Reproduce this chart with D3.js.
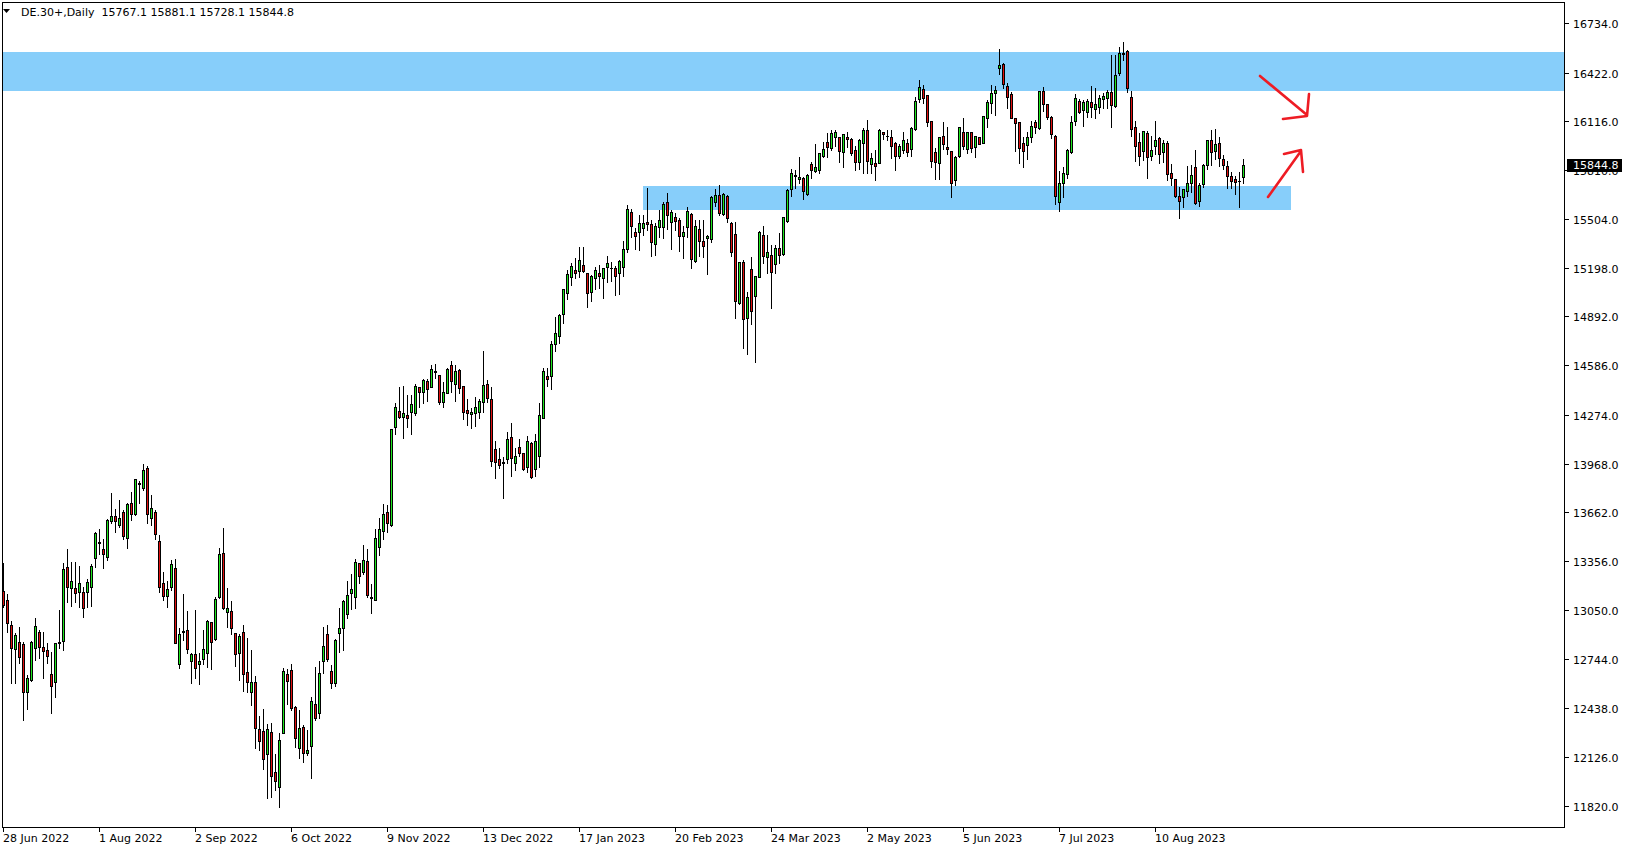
<!DOCTYPE html>
<html><head><meta charset="utf-8">
<script src="https://cdn.jsdelivr.net/npm/d3@7/dist/d3.min.js"></script>
<style>
html,body{margin:0;padding:0;background:#fff;}
svg{display:block;}
text{font-family:"DejaVu Sans",sans-serif;font-size:11px;}
</style></head>
<body>
<svg id="chart" width="1629" height="850"></svg>
<script>
// ---------- DATA ----------
const symbolTitle = "DE.30+,Daily";
const openP = [13169,13113,12956,12803,12847,12835,12537,12611,12810,12910,12816,12797,12646,12600,12841,12858,13318,13190,13190,13165,13161,13165,13196,13374,13470,13433,13385,13609,13640,13583,13667,13504,13719,13650,13843,13813,13939,13625,13663,13483,13217,13140,13196,13311,12709,12920,12924,12732,12774,12709,12740,12778,12972,12865,13129,13405,13039,13043,12903,12782,12909,12658,12537,12600,12301,12290,12144,12282,12031,11941,12276,12648,12673,12439,12181,12317,12150,12198,12460,12401,12732,12897,12669,12590,12908,12939,13023,13154,13129,13343,13286,13357,13128,13113,13443,13546,13663,13583,14196,14299,14263,14274,14294,14284,14447,14420,14487,14447,14543,14525,14353,14410,14587,14466,14556,14456,14305,14280,14288,14294,14353,14468,14374,14060,13997,13978,13995,14133,13974,14070,14033,13945,14100,13932,14018,14252,14518,14520,14717,14771,14905,15041,15141,15183,15179,15215,15162,15047,15135,15162,15135,15200,15195,15198,15162,15204,15315,15545,15420,15420,15445,15482,15470,15345,15451,15455,15608,15487,15518,15497,15399,15451,15533,15240,15439,15365,15382,15376,15608,15654,15533,15648,15476,15407,14974,15232,14880,15188,15020,15137,15403,15263,15278,15219,15319,15282,15491,15692,15778,15753,15763,15659,15847,15805,15811,15901,15985,15947,16021,16016,15922,16016,16004,15937,15864,15979,16062,15847,15853,15857,16048,16022,16016,15979,15901,15937,15979,15941,16066,16255,16317,16282,16119,15922,15853,16027,15958,15932,15749,15899,16048,15943,16052,15953,16020,15983,16140,16230,16297,16449,16474,16338,16285,16139,16110,15978,15967,16020,16110,16072,16306,16223,16145,16024,15612,15727,15785,15925,16120,16243,16187,16176,16239,16191,16204,16254,16260,16298,16212,16421,16541,16557,16266,16078,15984,15932,16041,15900,15963,16009,15921,15978,15790,15752,15647,15639,15681,15731,15827,15618,15723,15842,15999,15932,15978,15877,15836,15773,15752,15744,15767.1];
const highP = [13343,13150,12981,12908,12945,12851,12642,12855,12998,12925,12914,12841,12784,12845,13050,13343,13433,13353,13349,13326,13196,13245,13339,13541,13558,13496,13619,13786,13682,13740,13678,13719,13793,13874,13859,13966,13956,13772,13678,13521,13286,13234,13363,13367,12934,13150,13043,12782,13050,12782,12924,12987,12976,13129,13436,13562,13185,13106,12907,12897,12955,12876,12798,12635,12384,12426,12332,12338,12144,12280,12683,12677,12711,12449,12422,12328,12296,12506,12694,12729,12945,12955,12705,12870,13060,13113,13234,13276,13370,13347,13458,13431,13213,13556,13625,13715,13709,14184,14347,14451,14456,14399,14399,14468,14451,14500,14500,14587,14594,14525,14483,14566,14612,14587,14560,14456,14374,14315,14385,14372,14675,14493,14451,14110,14068,14012,14169,14225,14064,14121,14037,14142,14106,14154,14351,14570,14566,14738,14890,14907,15064,15183,15225,15256,15330,15330,15166,15152,15200,15215,15194,15271,15235,15208,15246,15365,15591,15564,15449,15528,15528,15696,15497,15480,15560,15612,15665,15560,15543,15508,15460,15577,15539,15497,15497,15497,15403,15648,15690,15717,15665,15654,15483,15487,15236,15246,15047,15267,15148,15428,15460,15403,15340,15340,15414,15518,15692,15820,15811,15895,15770,15784,15864,15974,15920,15989,16041,16062,16062,16020,16035,16052,16010,15962,16006,16073,16125,15916,15937,16066,16052,16062,16062,15989,15974,16052,16004,16079,16271,16376,16345,16282,16119,15947,16020,16110,16083,15932,15899,16079,16135,16048,16052,16025,16020,16150,16251,16345,16338,16570,16480,16359,16298,16139,16110,16015,16051,16118,16124,16306,16333,16223,16149,16030,15804,15831,15940,16149,16287,16254,16248,16254,16337,16323,16281,16296,16312,16532,16532,16580,16612,16563,16306,16118,16045,16055,16055,16024,16120,16020,16000,15992,15846,15752,15706,15689,15836,15842,15936,15727,15846,15999,16062,16068,16020,15904,15867,15800,15775,15796,15881.1];
const lowP = [13071,12914,12590,12594,12715,12360,12427,12607,12736,12747,12625,12715,12406,12506,12814,12799,13102,13077,13102,13071,13008,13071,13077,13322,13401,13316,13364,13598,13542,13573,13493,13441,13615,13646,13724,13803,13594,13583,13496,13165,13113,13067,13175,12840,12688,12861,12782,12589,12621,12583,12711,12690,12677,12861,13123,13058,12941,12897,12700,12610,12541,12537,12453,12186,12171,12050,11868,11874,11920,11815,12276,12460,12422,12192,12119,12098,12140,11997,12359,12374,12656,12730,12560,12570,12788,12799,13000,13054,13060,13221,13274,13134,13029,13113,13395,13496,13541,13577,14154,14253,14131,14196,14154,14274,14326,14351,14364,14447,14504,14343,14326,14410,14420,14364,14410,14246,14211,14190,14205,14253,14294,14357,13956,13880,13939,13750,13970,13891,13928,14016,13928,13918,13876,13891,13949,14252,14457,14436,14677,14727,14849,15001,15089,15135,15137,15173,14953,14991,15064,15068,15010,15110,15116,15026,15033,15146,15298,15388,15315,15309,15403,15434,15271,15278,15393,15382,15439,15315,15435,15305,15261,15393,15198,15236,15271,15267,15156,15357,15587,15529,15529,15487,15273,14884,14968,14692,14654,14843,14608,15137,15225,15163,14947,15163,15230,15278,15487,15650,15700,15732,15627,15654,15763,15797,15794,15895,15895,15937,15962,15864,15832,15958,15905,15811,15818,15795,15795,15795,15749,15853,16004,16000,15889,15811,15884,15916,15899,15899,16062,16240,16230,16087,15832,15753,15753,15941,15910,15644,15717,15895,15941,15916,15926,15895,15972,15979,16079,16167,16156,16413,16323,16202,16135,15932,15852,15831,15877,15988,16041,16068,16183,16128,16009,15597,15555,15643,15758,15919,16093,16166,16087,16141,16141,16139,16170,16197,16197,16082,16208,16407,16501,16302,16024,15867,15842,15873,15762,15873,15911,15852,15863,15748,15716,15643,15507,15580,15649,15674,15595,15587,15706,15815,15842,15880,15836,15815,15700,15695,15660,15580,15728.1];
const closeP = [13081,12966,12810,12893,12757,12533,12621,12847,12950,12816,12795,12764,12575,12841,12847,13307,13192,13232,13159,13217,13060,13228,13326,13531,13476,13401,13615,13640,13611,13625,13516,13715,13650,13870,13847,13928,13650,13688,13525,13192,13140,13180,13336,12844,12897,12910,12803,12774,12683,12730,12803,12980,12847,13116,13399,13064,13060,12934,12771,12886,12646,12600,12596,12311,12230,12112,12301,12010,11978,12234,12667,12606,12437,12248,12307,12154,12171,12478,12370,12656,12823,12740,12590,12861,12935,13106,13144,13182,13349,13265,13364,13144,13132,13500,13556,13650,13594,14184,14326,14259,14284,14253,14343,14456,14420,14493,14437,14562,14547,14357,14416,14562,14489,14550,14441,14294,14284,14294,14322,14364,14462,14378,13987,13977,13960,13972,14121,14001,14016,14037,13935,14112,13886,14110,14273,14549,14499,14719,14786,14901,15064,15156,15208,15166,15246,15179,15041,15146,15183,15146,15194,15225,15199,15148,15240,15313,15564,15461,15399,15476,15476,15470,15361,15460,15497,15598,15529,15545,15493,15397,15420,15554,15250,15460,15368,15336,15397,15640,15654,15539,15658,15508,15294,14989,15232,14876,15016,14926,15146,15420,15271,15294,15173,15319,15278,15514,15686,15794,15774,15770,15682,15780,15811,15832,15916,15941,15958,16041,16048,15933,16035,16008,15916,15864,16000,16062,15870,15884,15838,16062,16037,16027,15962,15899,15962,16000,15926,16073,16244,16330,16261,16110,15870,15864,16016,15972,15941,15728,15895,16079,15962,16048,15947,16025,15972,16150,16236,16292,16313,16470,16348,16271,16139,16108,15951,15932,16020,16087,16078,16306,16223,16145,16034,15649,15727,15790,15936,16110,16260,16176,16239,16243,16204,16225,16260,16274,16302,16218,16407,16546,16545,16327,16066,15963,15900,16055,15894,15936,15999,15909,15978,15783,15762,15649,15618,15689,15727,15779,15601,15716,15842,15999,15926,15971,15884,15842,15775,15744,15737,15740,15844.8];
const priceTicks = [16734,16422,16116,15810,15504,15198,14892,14586,14274,13968,13662,13356,13050,12744,12438,12126,11820];
const dateTickIdx = [0,24,48,72,96,120,144,168,192,216,240,264,288];
const dateTickLabels = ["28 Jun 2022","1 Aug 2022","2 Sep 2022","6 Oct 2022","9 Nov 2022","13 Dec 2022","17 Jan 2023","20 Feb 2023","24 Mar 2023","2 May 2023","5 Jun 2023","7 Jul 2023","10 Aug 2023"];
const resistanceZone = [16304, 16551];
const supportZone = [15562, 15711];
const supportZoneIdx = [160, 322];
const lastPrice = 15844.8;

// ---------- LAYOUT ----------
const plot = {left: 2, right: 1565, top: 2, bottom: 827};
const totalSlots = 391;
const svg = d3.select("#chart");

const x = d3.scaleBand().domain(d3.range(totalSlots)).range([1.3, 1.3 + totalSlots * 4]).paddingInner(0).paddingOuter(0);
const y = d3.scaleLinear().domain([11820, 16734]).range([806, 22.9]);
const cx = i => Math.floor(x(i) + x.bandwidth() / 2);

const g = svg.append("g").attr("shape-rendering", "crispEdges");

// zones
g.append("rect")
  .attr("x", plot.left).attr("width", plot.right - plot.left)
  .attr("y", Math.round(y(resistanceZone[1]))).attr("height", Math.round(y(resistanceZone[0])) - Math.round(y(resistanceZone[1])))
  .attr("fill", "#87cefa");
g.append("rect")
  .attr("x", cx(supportZoneIdx[0])).attr("width", cx(supportZoneIdx[1]) - cx(supportZoneIdx[0]))
  .attr("y", Math.round(y(supportZone[1]))).attr("height", Math.round(y(supportZone[0])) - Math.round(y(supportZone[1])))
  .attr("fill", "#87cefa");

// candles
const idx = d3.range(openP.length);
const cg = g.append("g");
cg.selectAll("line.wick").data(idx).join("line")
  .attr("x1", i => cx(i) + 0.5).attr("x2", i => cx(i) + 0.5)
  .attr("y1", i => Math.round(y(highP[i]))).attr("y2", i => Math.round(y(lowP[i])) + 1)
  .attr("stroke", "#000").attr("stroke-width", 1);
cg.selectAll("rect.body").data(idx).join("rect")
  .attr("x", i => cx(i) - 0.5).attr("width", 2)
  .attr("y", i => Math.round(y(Math.max(openP[i], closeP[i]))) + 0.5)
  .attr("height", i => Math.max(0.01, Math.round(y(Math.min(openP[i], closeP[i]))) - Math.round(y(Math.max(openP[i], closeP[i])))))
  .attr("fill", i => closeP[i] >= openP[i] ? "#1ee61e" : "#e01010")
  .attr("stroke", "#000").attr("stroke-width", 1);

// frame
svg.append("rect").attr("x", plot.left + 0.5).attr("y", plot.top + 0.5)
  .attr("width", plot.right - plot.left - 1).attr("height", plot.bottom - plot.top)
  .attr("fill", "none").attr("stroke", "#000").attr("stroke-width", 1).attr("shape-rendering", "crispEdges");

// y axis labels
const ya = svg.append("g");
priceTicks.forEach(p => {
  const yy = Math.round(y(p));
  ya.append("line").attr("x1", plot.right).attr("x2", plot.right + 4).attr("y1", yy + 0.5).attr("y2", yy + 0.5)
    .attr("stroke", "#000").attr("shape-rendering", "crispEdges");
  ya.append("text").attr("x", 1573).attr("y", yy + 5).attr("fill", "#000").text(p.toFixed(1));
});
// last price box (drawn over the 15810.0 label, as in the terminal)
const ly = Math.round(y(lastPrice));
ya.append("rect").attr("x", 1567).attr("y", ly - 6).attr("width", 55).attr("height", 13).attr("fill", "#000");
ya.append("text").attr("x", 1573).attr("y", ly + 4).attr("fill", "#fff").text(lastPrice.toFixed(1));

// x axis labels
const xa = svg.append("g");
dateTickIdx.forEach((k, j) => {
  const xx = cx(k);
  xa.append("line").attr("x1", xx + 0.5).attr("x2", xx + 0.5).attr("y1", plot.bottom).attr("y2", plot.bottom + 5)
    .attr("stroke", "#000").attr("shape-rendering", "crispEdges");
  xa.append("text").attr("x", xx).attr("y", 842).attr("fill", "#000").text(dateTickLabels[j]);
});

// title
svg.append("path").attr("d", "M3,9 L10,9 L6.5,13 Z").attr("fill", "#000");
svg.append("text").attr("x", 21).attr("y", 16).attr("fill", "#000").style("white-space", "pre")
  .text(symbolTitle + "  " + [openP, highP, lowP, closeP].map(a => a[a.length - 1].toFixed(1)).join(" "));

// arrows (hand drawn annotations)
const ag = svg.append("g").attr("stroke", "#ee1c24").attr("stroke-width", 2.6).attr("fill", "none")
  .attr("stroke-linecap", "round").attr("stroke-linejoin", "round");
ag.append("path").attr("d", "M1260,76 L1307,115 M1283,119 L1307,116 L1309,94");
ag.append("path").attr("d", "M1268,197 L1301,151 M1284,154 L1301,150 L1303,172");
</script>
</body></html>
